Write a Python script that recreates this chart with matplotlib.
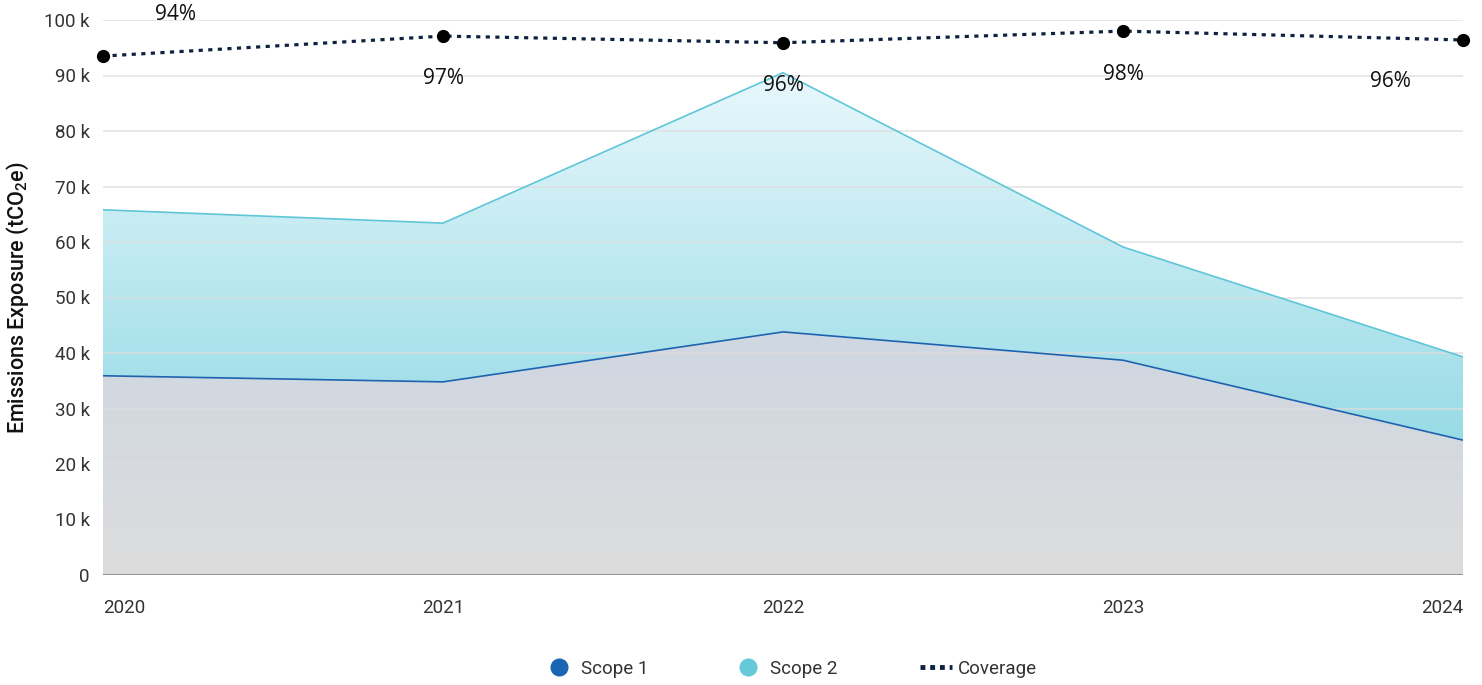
import numpy as np
import matplotlib
matplotlib.use('Agg')
import matplotlib.pyplot as plt
from matplotlib.colors import LinearSegmentedColormap
from matplotlib.lines import Line2D

years = [2020, 2021, 2022, 2023, 2024]
scope1 = [35.9, 34.8, 43.8, 38.7, 24.3]      # kt CO2e
scope2 = [29.9, 28.6, 46.7, 20.4, 15.0]      # stacked on scope 1
coverage = [93.5, 97.1, 95.9, 98.0, 96.4]    # percent
coverage_labels = ['94%', '97%', '96%', '98%', '96%']
y_ticks = [0, 10, 20, 30, 40, 50, 60, 70, 80, 90, 100]
y_tick_labels = ['0'] + [f'{v} k' for v in y_ticks[1:]]

plt.rcParams['font.family'] = ['Roboto', 'DejaVu Sans']

fig = plt.figure(figsize=(14.82, 6.85), dpi=100)
ax = fig.add_axes([103 / 1482, 1 - 575 / 685, 1360 / 1482, 555 / 685])

x = np.array(years, dtype=float)
s1 = np.array(scope1)
top = s1 + np.array(scope2)


def gradient_fill(ax, x, lo, hi, c_top, c_bot):
    poly = ax.fill_between(x, lo, hi, facecolor='none', edgecolor='none', zorder=1)
    cmap = LinearSegmentedColormap.from_list('g', [c_bot, c_top])
    grad = np.linspace(0, 1, 256).reshape(-1, 1)
    ymin, ymax = np.min(lo), np.max(hi)
    im = ax.imshow(grad, cmap=cmap, origin='lower', aspect='auto',
                   extent=[x[0], x[-1], ymin, ymax], zorder=1)
    im.set_clip_path(poly.get_paths()[0], transform=ax.transData)


gradient_fill(ax, x, np.zeros_like(s1), s1, '#cfd7e2', '#dcdcdc')
gradient_fill(ax, x, s1, top, '#e8f8fc', '#98dbe6')

for v in y_ticks[1:]:
    ax.axhline(v, color='#dddddd', lw=1.2, alpha=0.8, zorder=2)
ax.axhline(0, color='#8a8a8a', lw=2, zorder=3)

ax.plot(x, top, color='#5fc6d8', lw=1.2, zorder=4)
ax.plot(x, s1, color='#1d63b0', lw=1.2, zorder=4)

ax.plot(x, coverage, color='#0d2240', lw=2.3, ls=(0, (1.3, 1.7)), zorder=5)
ax.plot(x, coverage, 'o', color='black', ms=8.5, zorder=6, clip_on=False)

offsets = [(72, 42), (0, -42), (0, -43), (0, -43), (-73, -42)]
for xi, yi, lab, off in zip(x, coverage, coverage_labels, offsets):
    ax.annotate(lab, (xi, yi), xytext=off, textcoords='offset pixels',
                ha='center', va='center', fontsize=15, color='#111111',
                family=['Open Sans', 'DejaVu Sans'], zorder=7,
                annotation_clip=False)

ax.set_xlim(2020, 2024)
ax.set_ylim(0, 100)
ax.set_yticks(y_ticks)
ax.set_yticklabels(y_tick_labels, fontsize=13.5, color='#333333')
ax.set_xticks(years)
ax.set_xticklabels([str(y) for y in years], fontsize=13.5, color='#333333')
xt = ax.get_xticklabels()
xt[0].set_ha('left')
xt[-1].set_ha('right')
ax.tick_params(axis='both', length=0)
ax.tick_params(axis='x', pad=17)
ax.tick_params(axis='y', pad=9.5)
for sp in ax.spines.values():
    sp.set_visible(False)

ax.set_ylabel('Emissions Exposure (tCO$_{\\mathregular{2}}$e)', fontsize=15.5,
              fontweight='medium', color='#111111')
ax.yaxis.set_label_coords(-0.053, 0.5)

handles = [
    Line2D([], [], marker='o', ls='none', color='#1a66b3', ms=12),
    Line2D([], [], marker='o', ls='none', color='#66c9da', ms=12),
    Line2D([], [], color='#0d2240', lw=3.5, ls=(0, (1, 1))),
]
fig.legend(handles, ['Scope 1', 'Scope 2', 'Coverage'], loc='center',
           bbox_to_anchor=(790 / 1482, 1 - 669 / 685), ncol=3, frameon=False,
           fontsize=13.5, columnspacing=4.4, handlelength=1.75, handletextpad=0.3,
           labelcolor='#333333')

fig.savefig('out.png', dpi=100)
